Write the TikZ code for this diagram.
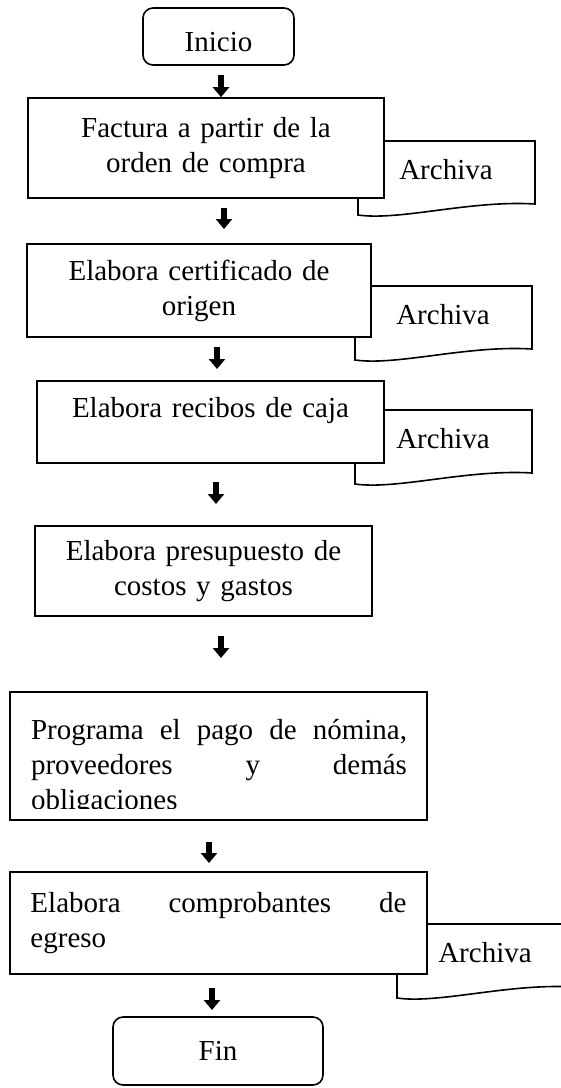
\documentclass[tikz,border=0pt]{standalone}
\usepackage{fontspec}
\setmainfont{Liberation Serif}
\usepackage{tikz}
\usetikzlibrary{arrows.meta}

\tikzset{
  caja/.style = {draw, line width = 1.6pt, fill = white, inner sep = 0pt, align = center},
  terminal/.style = {caja, rounded corners = 10pt},
  flecha/.style = {line width = 5.5pt, -{Triangle[length = 10pt, width = 16pt]}},
  archivo/.style = {draw, line width = 1.6pt, fill = white},
}

\begin{document}
\begin{tikzpicture}[x = 1pt, y = -1pt, font = \fontsize{29}{35}\selectfont]

\clip (0,0) rectangle (561,1088);

\foreach \i/\x/\y in {1/358/141, 2/355/286, 3/355/410, 4/397/924}{
  \draw[archivo] (\x,\y) -- ++(177,0) -- ++(0,63) .. controls +(-65,-4) and +(42,6) .. (\x,\y+74) -- cycle;
  \node (arch\i) at (\x+88,\y+29) {Archiva};
}

\node[terminal, minimum width = 151pt, minimum height = 57pt, text height = 30pt] (inicio) at (218.5,36.5) {Inicio};
\node[caja, minimum width = 356pt, minimum height = 100pt, text width = 340pt] (c1) at (206,148) {Factura a partir de la\\ orden de compra};
\node[caja, minimum width = 344pt, minimum height = 93pt, text width = 330pt] (c2) at (199,290.5) {Elabora certificado de\\ origen};
\node[caja, minimum width = 347pt, minimum height = 82pt, text width = 330pt, text depth = 30pt] (c3) at (210.5,422) {Elabora recibos de caja};
\node[caja, minimum width = 337pt, minimum height = 90pt, text width = 320pt] (c4) at (203.5,571) {Elabora presupuesto de\\ costos y gastos};

\node[caja, minimum width = 417pt, minimum height = 128pt] (c5) at (218.5,756) {};
\begin{scope}
\clip (12,694) rectangle (425,808);
\node[text width = 376pt, align = left, inner sep = 0pt] (t5) at (219,768) {Programa\hfill el\hfill pago\hfill de\hfill nómina,\\ proveedores\hfill y\hfill demás\\ obligaciones};
\end{scope}

\node[caja, minimum width = 417pt, minimum height = 102pt, text width = 376pt, align = left] (c6) at (218.5,923) {Elabora\hfill comprobantes\hfill de\\ egreso};
\node[terminal, minimum width = 210pt, minimum height = 68pt] (fin) at (218,1051) {Fin};

\coordinate (a1) at (221,75);
\draw[flecha] (a1) -- (a1 |- c1.north);
\foreach \i/\x/\ya/\yb in {2/224/208/229, 3/217/347/369, 4/216/482/504, 5/221/636/658, 6/209/842/863, 7/212/988/1010}{
  \coordinate (a\i) at (\x,\ya);
  \coordinate (b\i) at (\x,\yb);
  \draw[flecha] (a\i) -- (b\i);
}

\end{tikzpicture}
\end{document}
